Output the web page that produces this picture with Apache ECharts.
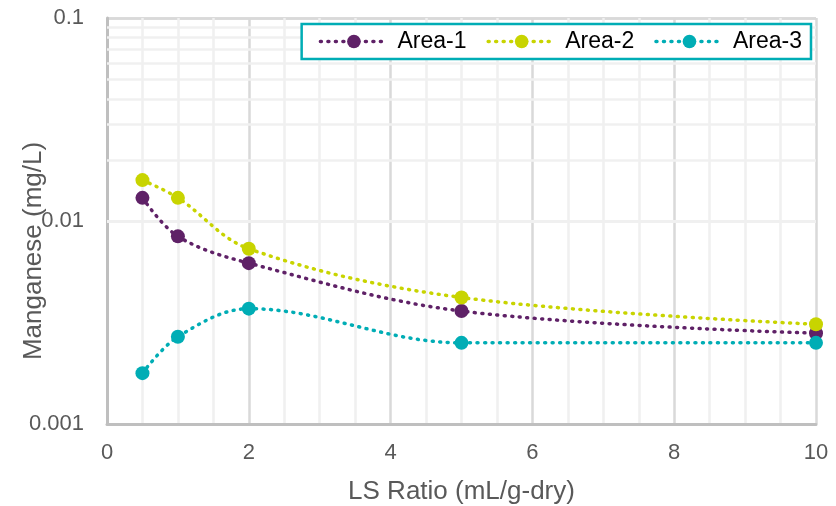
<!DOCTYPE html>
<html>
<head>
<meta charset="utf-8">
<script src="https://cdn.jsdelivr.net/npm/echarts@6/dist/echarts.min.js"></script>
<style>
  html, body { margin: 0; padding: 0; background: #fff; }
  #chart { width: 836px; height: 506px; }
</style>
</head>
<body>
<div id="chart"></div>
<script>
// LS ratio values (x) and manganese concentrations (mg/L) per area
var lsRatio = [0.5, 1, 2, 5, 10];
var area1 = [0.0130, 0.0084, 0.0062, 0.0036, 0.0028];
var area2 = [0.0159, 0.0130, 0.0073, 0.0042, 0.0031];
var area3 = [0.00178, 0.00269, 0.00370, 0.00251, 0.00251];
var seriesNames = ['Area-1', 'Area-2', 'Area-3'];
var colors = ['#5f2167', '#c8d400', '#00adb5'];
// minor log gridlines between decades
var minorY = [0.002, 0.003, 0.004, 0.005, 0.006, 0.007, 0.008, 0.009,
              0.02, 0.03, 0.04, 0.05, 0.06, 0.07, 0.08, 0.09];

function pairs(ys) {
  return lsRatio.map(function (x, i) { return [x, ys[i]]; });
}

var font = 'Liberation Sans, Arial, sans-serif';
var myChart = echarts.init(document.getElementById('chart'));

function lineSeries(name, ys, color) {
  return {
    name: name,
    type: 'line',
    data: pairs(ys),
    smooth: 0.35,
    symbol: 'circle',
    symbolSize: 14,
    z: 3,
    itemStyle: { color: color },
    lineStyle: { color: color, width: 3.5, type: [1, 6.5], cap: 'round' }
  };
}

var option = {
  animation: false,
  color: colors,
  grid: { left: 107, right: 20, top: 18, bottom: 82, outerBoundsMode: 'none', containLabel: false },
  // y axis title sits a little below the plot middle in the original
  graphic: [{
    type: 'text',
    x: 34,
    y: 251,
    rotation: Math.PI / 2,
    style: {
      text: 'Manganese (mg/L)',
      x: 0, y: 0,
      align: 'center',
      verticalAlign: 'middle',
      fontFamily: font,
      fontSize: 26,
      fill: '#595959'
    }
  }],
  legend: {
    data: seriesNames,
    top: 24,
    right: 25,
    itemWidth: 67,
    itemHeight: 17,
    itemGap: 20,
    padding: [6, 9, 6, 17],
    borderColor: '#00adb5',
    borderWidth: 2.5,
    borderType: 'solid',
    backgroundColor: '#fff',
    lineStyle: { width: 3.5, type: [1, 6.5], cap: 'round' },
    textStyle: { fontFamily: font, fontSize: 23, color: '#000', padding: [0, 0, 0, 5] }
  },
  xAxis: {
    type: 'value',
    min: 0,
    max: 10,
    interval: 2,
    name: 'LS Ratio (mL/g-dry)',
    nameLocation: 'middle',
    nameGap: 55,
    nameTextStyle: { fontFamily: font, fontSize: 26, color: '#595959' },
    axisLine: { onZero: false, lineStyle: { color: '#bfbfbf', width: 3 } },
    axisTick: { show: false },
    axisLabel: { fontFamily: font, fontSize: 22, color: '#595959', margin: 18 },
    splitLine: { lineStyle: { color: '#d9d9d9', width: 2.5 } },
    minorTick: { show: false, splitNumber: 4 },
    minorSplitLine: { show: true, lineStyle: { color: '#f0f0f0', width: 2.5 } }
  },
  yAxis: {
    type: 'log',
    logBase: 10,
    min: 0.001,
    max: 0.1,
    axisLine: { show: true, lineStyle: { color: '#bfbfbf', width: 3 } },
    axisTick: { show: false },
    axisLabel: {
      fontFamily: font, fontSize: 22, color: '#595959', margin: 23,
      formatter: function (v) { return String(+v.toPrecision(3)); }
    },
    splitLine: { lineStyle: { color: '#d9d9d9', width: 2.5 } }
  },
  series: [
    {
      name: 'grid-minor',
      type: 'line',
      data: [],
      z: 1,
      silent: true,
      markLine: {
        z: 1,
        silent: true,
        symbol: 'none',
        label: { show: false },
        lineStyle: { color: '#f0f0f0', width: 2.5, type: 'solid' },
        data: minorY.map(function (v) { return { yAxis: v }; })
      }
    },
    lineSeries(seriesNames[0], area1, colors[0]),
    lineSeries(seriesNames[1], area2, colors[1]),
    lineSeries(seriesNames[2], area3, colors[2])
  ]
};

myChart.setOption(option);
</script>
</body>
</html>
